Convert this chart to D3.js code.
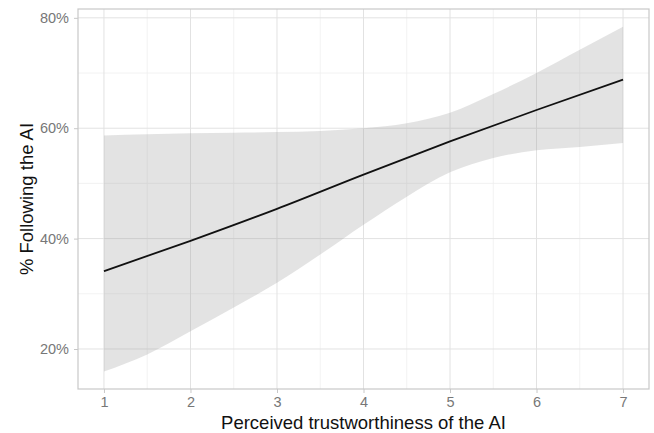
<!DOCTYPE html>
<html>
<head>
<meta charset="utf-8">
<script src="https://cdn.jsdelivr.net/npm/d3@7"></script>
<style>
  body { margin: 0; background: #fff; }
  text { font-family: "Liberation Sans", Arial, sans-serif; }
</style>
</head>
<body>
<div id="chart"></div>
<script>
// ribbon / fit
const bandX = [1, 1.5, 2, 2.5, 3, 3.5, 4, 4.5, 5, 5.5, 6, 6.5, 7];
const upper = [58.7, 58.9, 59.1, 59.2, 59.3, 59.5, 60.0, 60.9, 62.8, 66.2, 70.0, 74.2, 78.4];
const lower = [15.9, 19.0, 23.2, 27.5, 32.0, 37.1, 42.5, 47.6, 52.0, 54.6, 56.0, 56.6, 57.3];
const fitX = [1, 2, 3, 4, 5, 6, 7];
const fitY = [34.1, 39.6, 45.4, 51.6, 57.6, 63.3, 68.8];
const xTicks = [1, 2, 3, 4, 5, 6, 7];
const yTicks = [20, 40, 60, 80];

const W = 654, H = 433;
const margin = {top: 9, right: 5, bottom: 44, left: 78};
const w = W - margin.left - margin.right;
const h = H - margin.top - margin.bottom;

const svg = d3.select("#chart")
  .append("svg")
    .attr("width", W)
    .attr("height", H);

const g = svg.append("g")
  .attr("transform", "translate(" + margin.left + "," + margin.top + ")");

const x = d3.scaleLinear().domain([0.7, 7.3]).range([0, w]);
const y = d3.scaleLinear().domain([12.75, 81.6]).range([h, 0]);

// minor grid
g.selectAll(".minx").data(d3.range(1.5, 7, 1)).enter().append("line")
  .attr("x1", d => x(d)).attr("x2", d => x(d))
  .attr("y1", 0).attr("y2", h)
  .attr("stroke", "#efefef").attr("stroke-width", 0.8);
g.selectAll(".miny").data([30, 50, 70]).enter().append("line")
  .attr("y1", d => y(d)).attr("y2", d => y(d))
  .attr("x1", 0).attr("x2", w)
  .attr("stroke", "#efefef").attr("stroke-width", 0.8);
// major grid
g.selectAll(".majx").data(xTicks).enter().append("line")
  .attr("x1", d => x(d)).attr("x2", d => x(d))
  .attr("y1", 0).attr("y2", h)
  .attr("stroke", "#e2e2e2").attr("stroke-width", 1);
g.selectAll(".majy").data(yTicks).enter().append("line")
  .attr("y1", d => y(d)).attr("y2", d => y(d))
  .attr("x1", 0).attr("x2", w)
  .attr("stroke", "#e2e2e2").attr("stroke-width", 1);

// confidence band
const area = d3.area()
  .x((d, i) => x(bandX[i]))
  .y0((d, i) => y(lower[i]))
  .y1((d, i) => y(upper[i]))
  .curve(d3.curveMonotoneX);
g.append("path")
  .datum(upper)
  .attr("d", area)
  .attr("fill", "#999")
  .attr("fill-opacity", 0.27);

// fitted line
const line = d3.line()
  .x((d, i) => x(fitX[i]))
  .y(d => y(d))
  .curve(d3.curveMonotoneX);
g.append("path")
  .datum(fitY)
  .attr("d", line)
  .attr("fill", "none")
  .attr("stroke", "#111")
  .attr("stroke-width", 1.8);

// panel border
g.append("rect")
  .attr("width", w).attr("height", h)
  .attr("fill", "none")
  .attr("stroke", "#c8c8c8")
  .attr("stroke-width", 1.2);

// axes
const xAxis = g.append("g")
  .attr("transform", "translate(0," + h + ")")
  .call(d3.axisBottom(x).tickValues(xTicks).tickSize(4).tickPadding(4)
    .tickFormat(d3.format("d")));
const yAxis = g.append("g")
  .call(d3.axisLeft(y).tickValues(yTicks).tickSize(4).tickPadding(5)
    .tickFormat(d => d + "%"));
[xAxis, yAxis].forEach(a => {
  a.select(".domain").remove();
  a.selectAll(".tick line").attr("stroke", "#c8c8c8");
  a.selectAll(".tick text")
    .attr("fill", "#777")
    .style("font-size", "14.5px")
    .style("font-family", "Liberation Sans, Arial, sans-serif");
});

// titles
svg.append("text")
  .attr("x", margin.left + w / 2)
  .attr("y", 429)
  .attr("text-anchor", "middle")
  .style("font-size", "18.5px")
  .attr("fill", "#111")
  .text("Perceived trustworthiness of the AI");
svg.append("text")
  .attr("transform", "translate(33," + (margin.top + h / 2) + ") rotate(-90)")
  .attr("text-anchor", "middle")
  .style("font-size", "18.5px")
  .attr("fill", "#111")
  .text("% Following the AI");
</script>
</body>
</html>
